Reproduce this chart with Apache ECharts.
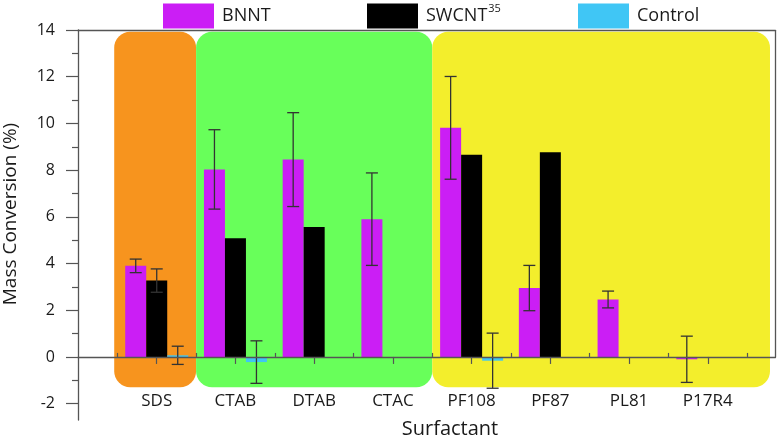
<!DOCTYPE html>
<html><head><meta charset="utf-8">
<script src="https://cdn.jsdelivr.net/npm/echarts@6/dist/echarts.min.js"></script>
<style>html,body{margin:0;padding:0;background:#fff}#c{width:777px;height:439px}</style>
</head><body><div id="c"></div>
<script>
// ---- data ----
const categories = ['SDS','CTAB','DTAB','CTAC','PF108','PF87','PL81','P17R4'];
const bnnt       = [3.9, 8.03, 8.45, 5.9, 9.81, 2.95, 2.46, -0.1];
const bnntErr    = [0.29, 1.7, 2.01, 1.98, 2.2, 0.97, 0.36, 0.99];
const swcnt      = [3.27, 5.08, 5.56, null, 8.66, 8.76, null, null];
const swcntErr   = [0.5, null, null, null, null, null, null, null];
const control    = [0.07, -0.22, null, null, -0.16, null, null, null];
const controlErr = [0.39, 0.91, null, null, 1.18, null, null, null];
const yTicks      = [-2,0,2,4,6,8,10,12,14];
const yMinorTicks = [-1,1,3,5,7,9,11,13];
const xTicks      = [1,2,3,4,5,6,7,8];
const xMinorTicks = [0.5,1.5,2.5,3.5,4.5,5.5,6.5,7.5,8.5];
// surfactant classes (anionic / cationic / non-ionic) as axis ranges
const groupRanges = [[0.46,1.5],[1.5,4.5],[4.5,8.79]];

// ---- styles ----
const FONT = '"Open Sans", "Noto Sans", sans-serif';
const TXT = '#1a1a1a';
const AX = '#555';
const BAR_W = 21, CAP = 12;
const groupColors = ['#F7941E', '#68FF5A', '#F3EE2C'];
const seriesColors = ['#CB1EF5', '#000000', '#40C6F5'];
const X_MAX = 8.86, Y_MIN = -2.7, Y_MAX = 14;

const chart = echarts.init(document.getElementById('c'), null, {renderer:'canvas'});

function barData(vals){ return vals.map((v,i)=>[i+1, v==null?'-':v]); }
function errData(vals, errs){
  const out=[];
  vals.forEach((v,i)=>{ if(v!=null && errs[i]!=null) out.push([i+1, v-errs[i], v+errs[i]]); });
  return out;
}
function errSeries(vals, errs, k){
  return {
    type:'custom', xAxisIndex:0, yAxisIndex:0, z:6, silent:true,
    data: errData(vals, errs), encode:{x:0, y:[1,2]},
    renderItem(params, api){
      const lo = api.coord([api.value(0), api.value(1)]);
      const hi = api.coord([api.value(0), api.value(2)]);
      const x = lo[0] + (k-1)*BAR_W;
      const h = CAP/2;
      const st = {stroke:'#333', lineWidth:1.3};
      return {type:'group', children:[
        {type:'line', shape:{x1:x,y1:hi[1],x2:x,y2:lo[1]}, style:st},
        {type:'line', shape:{x1:x-h,y1:hi[1],x2:x+h,y2:hi[1]}, style:st},
        {type:'line', shape:{x1:x-h,y1:lo[1],x2:x+h,y2:lo[1]}, style:st}
      ]};
    }
  };
}
function legendAt(name, left){
  return {
    show:true, data:[name], left:left, top:3, padding:0, itemWidth:51, itemHeight:25,
    icon:'rect', selectedMode:false,
    formatter: n => n==='SWCNT' ? 'SWCNT{sup|35}' : n,
    textStyle:{fontFamily:FONT, fontSize:18, color:TXT, padding:[0,0,0,3], lineHeight:26,
      rich:{sup:{fontFamily:FONT, fontSize:11, color:TXT, verticalAlign:'top', lineHeight:12, padding:[0,0,0,1]}}}
  };
}

const option = {
  animation:false,
  backgroundColor:'#fff',
  grid:{left:78, right:1.5, top:30, bottom:19, containLabel:false, outerBoundsMode:'none'},
  legend:[legendAt('BNNT',163), legendAt('SWCNT',367), legendAt('Control',578)],
  xAxis:[
    {type:'value', min:0, max:X_MAX, z:10,
      axisLine:{show:true, onZero:true, lineStyle:{color:AX, width:1.3}},
      axisTick:{show:true, customValues:xTicks, length:7, lineStyle:{color:AX, width:1.2}},
      axisLabel:{show:true, customValues:xTicks, formatter:v=>categories[Math.round(v)-1]||'', margin:-27,
        fontFamily:FONT, fontSize:17, color:TXT},
      splitLine:{show:false}},
    {type:'value', min:0, max:X_MAX, z:10,
      axisLine:{show:false, onZero:true},
      axisTick:{show:true, customValues:xMinorTicks, length:4, lineStyle:{color:AX, width:1.2}},
      axisLabel:{show:false}, splitLine:{show:false}},
    {type:'value', min:0, max:X_MAX, position:'top', z:10,
      axisLine:{show:true, onZero:false, lineStyle:{color:AX, width:1.3}},
      axisTick:{show:false}, axisLabel:{show:false}, splitLine:{show:false}}
  ],
  yAxis:[
    {type:'value', min:Y_MIN, max:Y_MAX, position:'left', z:10,
      axisLine:{show:true, lineStyle:{color:AX, width:1.3}},
      axisTick:{show:true, customValues:yTicks, length:12, lineStyle:{color:AX, width:1.2}},
      axisLabel:{show:true, customValues:yTicks, margin:23, fontFamily:FONT, fontSize:16, color:TXT},
      splitLine:{show:false}},
    {type:'value', min:Y_MIN, max:Y_MAX, position:'left', z:10,
      axisLine:{show:false},
      axisTick:{show:true, customValues:yMinorTicks, length:6, lineStyle:{color:AX, width:1.2}},
      axisLabel:{show:false}, splitLine:{show:false}}
  ],
  graphic:[
    {type:'text', x:11, y:214, rotation:Math.PI/2, silent:true,
      style:{text:'Mass Conversion (%)', font:'19px '+FONT, fill:TXT, align:'center', verticalAlign:'middle'}},
    {type:'text', x:450, y:429, silent:true,
      style:{text:'Surfactant', font:'20px '+FONT, fill:TXT, align:'center', verticalAlign:'middle'}}
  ],
  series:[
    {type:'custom', xAxisIndex:0, yAxisIndex:0, z:0, silent:true,
      data: groupRanges.map((r,i)=>[r[0], r[1], i]), encode:{x:[0,1]},
      renderItem(params, api){
        const p0 = api.coord([api.value(0), 13.92]);
        const p1 = api.coord([api.value(1), -1.3]);
        return {type:'rect', shape:{x:p0[0], y:p0[1], width:p1[0]-p0[0], height:p1[1]-p0[1], r:16},
          style:{fill:groupColors[api.value(2)]}};
      },
      markLine:{silent:true, symbol:'none', label:{show:false},
        lineStyle:{color:AX, width:1.3, type:'solid'},
        data:[[{coord:[X_MAX,0]},{coord:[X_MAX,Y_MAX]}]]}
    },
    {name:'BNNT', type:'bar', xAxisIndex:0, yAxisIndex:0, data:barData(bnnt), barWidth:BAR_W, barGap:'0%',
      itemStyle:{color:seriesColors[0]}, z:3},
    {name:'SWCNT', type:'bar', xAxisIndex:0, yAxisIndex:0, data:barData(swcnt), barWidth:BAR_W, barGap:'0%',
      itemStyle:{color:seriesColors[1]}, z:3},
    {name:'Control', type:'bar', xAxisIndex:0, yAxisIndex:0, data:barData(control), barWidth:BAR_W, barGap:'0%',
      itemStyle:{color:seriesColors[2]}, z:3},
    errSeries(bnnt, bnntErr, 0),
    errSeries(swcnt, swcntErr, 1),
    errSeries(control, controlErr, 2)
  ]
};
chart.setOption(option);
</script>
</body></html>
